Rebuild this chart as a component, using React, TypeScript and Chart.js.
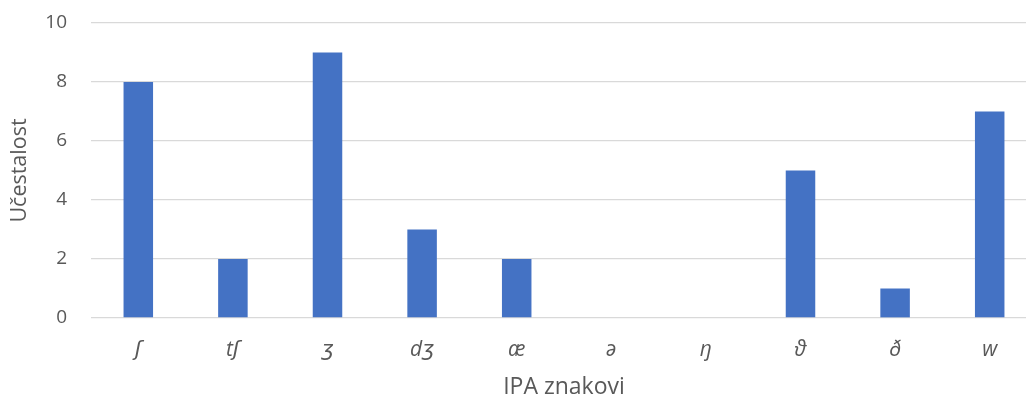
import React, { useEffect, useRef } from "react";
import { Chart, registerables } from "chart.js";

Chart.register(...registerables);

const categories = ["ʃ", "tʃ", "ʒ", "dʒ", "æ", "ə", "ŋ", "ϑ", "ð", "w"];
const values = [8, 2, 9, 3, 2, 0, 0, 5, 1, 7];
const yTicks = [0, 2, 4, 6, 8, 10];
const xTitle = "IPA znakovi";
const yTitle = "Učestalost";

const FONT = "'Open Sans', 'DejaVu Sans', sans-serif";
const TEXT = "#595959";
const GRID = "#d9d9d9";
const BAR = "#4472c4";

export default function App() {
  const ref = useRef<HTMLCanvasElement | null>(null);
  useEffect(() => {
    if (!ref.current) return;
    const chart = new Chart(ref.current, {
      type: "bar",
      data: {
        labels: categories,
        datasets: [
          {
            data: values,
            backgroundColor: BAR,
            barPercentage: 0.312,
            categoryPercentage: 1,
          },
        ],
      },
      options: {
        animation: false,
        responsive: false,
        maintainAspectRatio: false,
        layout: { padding: { top: 23, right: 13, left: 0, bottom: 0 } },
        plugins: { legend: { display: false }, tooltip: { enabled: false } },
        scales: {
          x: {
            grid: { display: false },
            border: { display: false },
            ticks: {
              color: TEXT,
              font: { family: FONT, size: 21, style: "italic" },
              padding: 11,
              maxRotation: 0,
            },
            title: {
              display: true,
              text: xTitle,
              color: TEXT,
              font: { family: FONT, size: 23 },
              padding: { top: 0, bottom: 0 },
            },
            afterFit: (s: any) => {
              s.height = 83;
              s.paddingLeft = 0;
              s.paddingRight = 0;
            },
          },
          y: {
            min: 0,
            max: 10,
            afterBuildTicks: (s: any) => {
              s.ticks = yTicks.map((v) => ({ value: v }));
            },
            grid: { color: GRID, lineWidth: 1.3, drawTicks: false },
            border: { display: false },
            ticks: {
              color: TEXT,
              font: { family: FONT, size: 19 },
              padding: 24,
            },
            title: {
              display: true,
              text: yTitle,
              color: TEXT,
              font: { family: FONT, size: 21.5 },
              padding: { top: 7, bottom: 0 },
            },
            afterFit: (s: any) => {
              s.width = 91;
              s.paddingTop = 0;
              s.paddingBottom = 0;
            },
          },
        },
      },
    });
    return () => chart.destroy();
  }, []);
  return (
    <div
      style={{
        position: "absolute",
        left: 0,
        top: 0,
        width: 1026,
        height: 401,
        overflow: "hidden",
        background: "#fff",
      }}
    >
      <canvas ref={ref} width={1050} height={401} style={{ display: "block" }} />
    </div>
  );
}
